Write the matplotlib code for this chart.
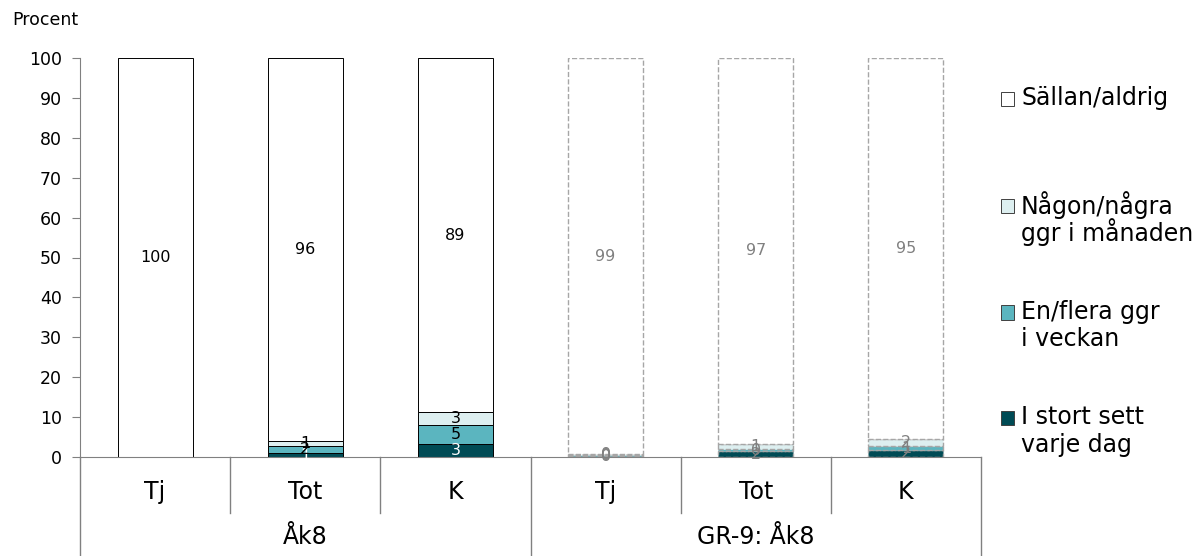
import matplotlib.pyplot as plt
import numpy as np
from matplotlib.legend_handler import HandlerPatch
from matplotlib.patches import Patch, Rectangle

# categories (two groups of three bars)
bar_labels = ["Tj", "Tot", "K", "Tj", "Tot", "K"]
group_labels = ["Åk8", "GR-9: Åk8"]

series_names = ["I stort sett\nvarje dag", "En/flera ggr\ni veckan",
                "Någon/några\nggr i månaden", "Sällan/aldrig\n "]
daily = [0, 1.0, 3.3, 0.2, 1.5, 1.8]
weekly = [0, 1.8, 4.7, 0.2, 0.5, 0.9]
monthly = [0, 1.2, 3.2, 0.3, 1.3, 1.9]
seldom = [100, 96, 88.8, 99.3, 96.7, 95.4]

colors = ["#004b55", "#5bb5bf", "#ddeff0", "#ffffff"]

plt.rcParams["font.family"] = ["DejaVu Sans"]

fig = plt.figure(figsize=(12.04, 5.56), dpi=100)
ax = fig.add_axes([80 / 1204, 1 - 457 / 556, 901 / 1204, 399 / 556])

x = np.arange(len(bar_labels))
bottoms = np.zeros(len(x))
for name, vals, col in zip(series_names, [daily, weekly, monthly, seldom], colors):
    vals = np.asarray(vals, dtype=float)
    for i in x:
        comparison = i >= 3
        if vals[i] == 0 and not comparison:
            continue
        ax.bar(i, vals[i], bottom=bottoms[i], width=0.5, color=col,
               edgecolor="#a6a6a6" if comparison else "black",
               linewidth=1.0 if comparison else 0.7,
               linestyle="--" if comparison else "-")
        if comparison:
            tcol = "#808080"
        else:
            tcol = "white" if col == colors[0] else "black"
        ax.text(i, bottoms[i] + vals[i] / 2, f"{vals[i]:.0f}", ha="center",
                va="center", fontsize=11.5, color=tcol)
    bottoms += vals

ax.set_xlim(-0.5, len(x) - 0.5)
ax.set_ylim(0, 100)
ax.set_yticks(range(0, 101, 10))
ax.tick_params(axis="y", length=6, color="#808080", labelsize=12.5,
               direction="out", pad=7)
ax.set_xticks([])
for s in ["top", "right"]:
    ax.spines[s].set_visible(False)
for s in ["left", "bottom"]:
    ax.spines[s].set_color("#808080")

# category table below the axis
trans = ax.get_xaxis_transform()
for b in np.arange(-0.5, len(x), 1.0):
    major = b in (-0.5, 2.5, 5.5)
    ax.plot([b, b], [0, -0.25 if major else -0.14], transform=trans,
            color="#808080", lw=1, clip_on=False)
for i, lab in enumerate(bar_labels):
    ax.text(i, -0.087, lab, transform=trans, ha="center", va="center", fontsize=17)
for g, lab in enumerate(group_labels):
    ax.text(g * 3 + 1, -0.2, lab, transform=trans, ha="center", va="center", fontsize=17)

fig.text(12 / 1204, 1 - 20 / 556, "Procent", fontsize=12.5, va="center")


# put the legend square beside the first line of each two-line label
def first_line_patch(legend, orig_handle, xdescent, ydescent, width, height, fontsize):
    return Rectangle((-xdescent, -ydescent + 0.6 * fontsize), width, height)


handles = [Patch(facecolor=c, edgecolor="#404040", linewidth=0.7) for c in colors]
leg = fig.legend(handles[::-1], series_names[::-1], loc="upper left",
                 bbox_to_anchor=(1001 / 1204, 1 - 86 / 556), frameon=False,
                 fontsize=17, handlelength=0.55, handleheight=0.55,
                 handletextpad=0.3, labelspacing=2.27, borderpad=0, borderaxespad=0,
                 handler_map={Patch: HandlerPatch(patch_func=first_line_patch)})
# "å" makes the second line taller; tighten it so the lines sit evenly
for t in leg.get_texts():
    if "å" in t.get_text():
        t.set_linespacing(0.95)

fig.savefig("out.png", dpi=100)
